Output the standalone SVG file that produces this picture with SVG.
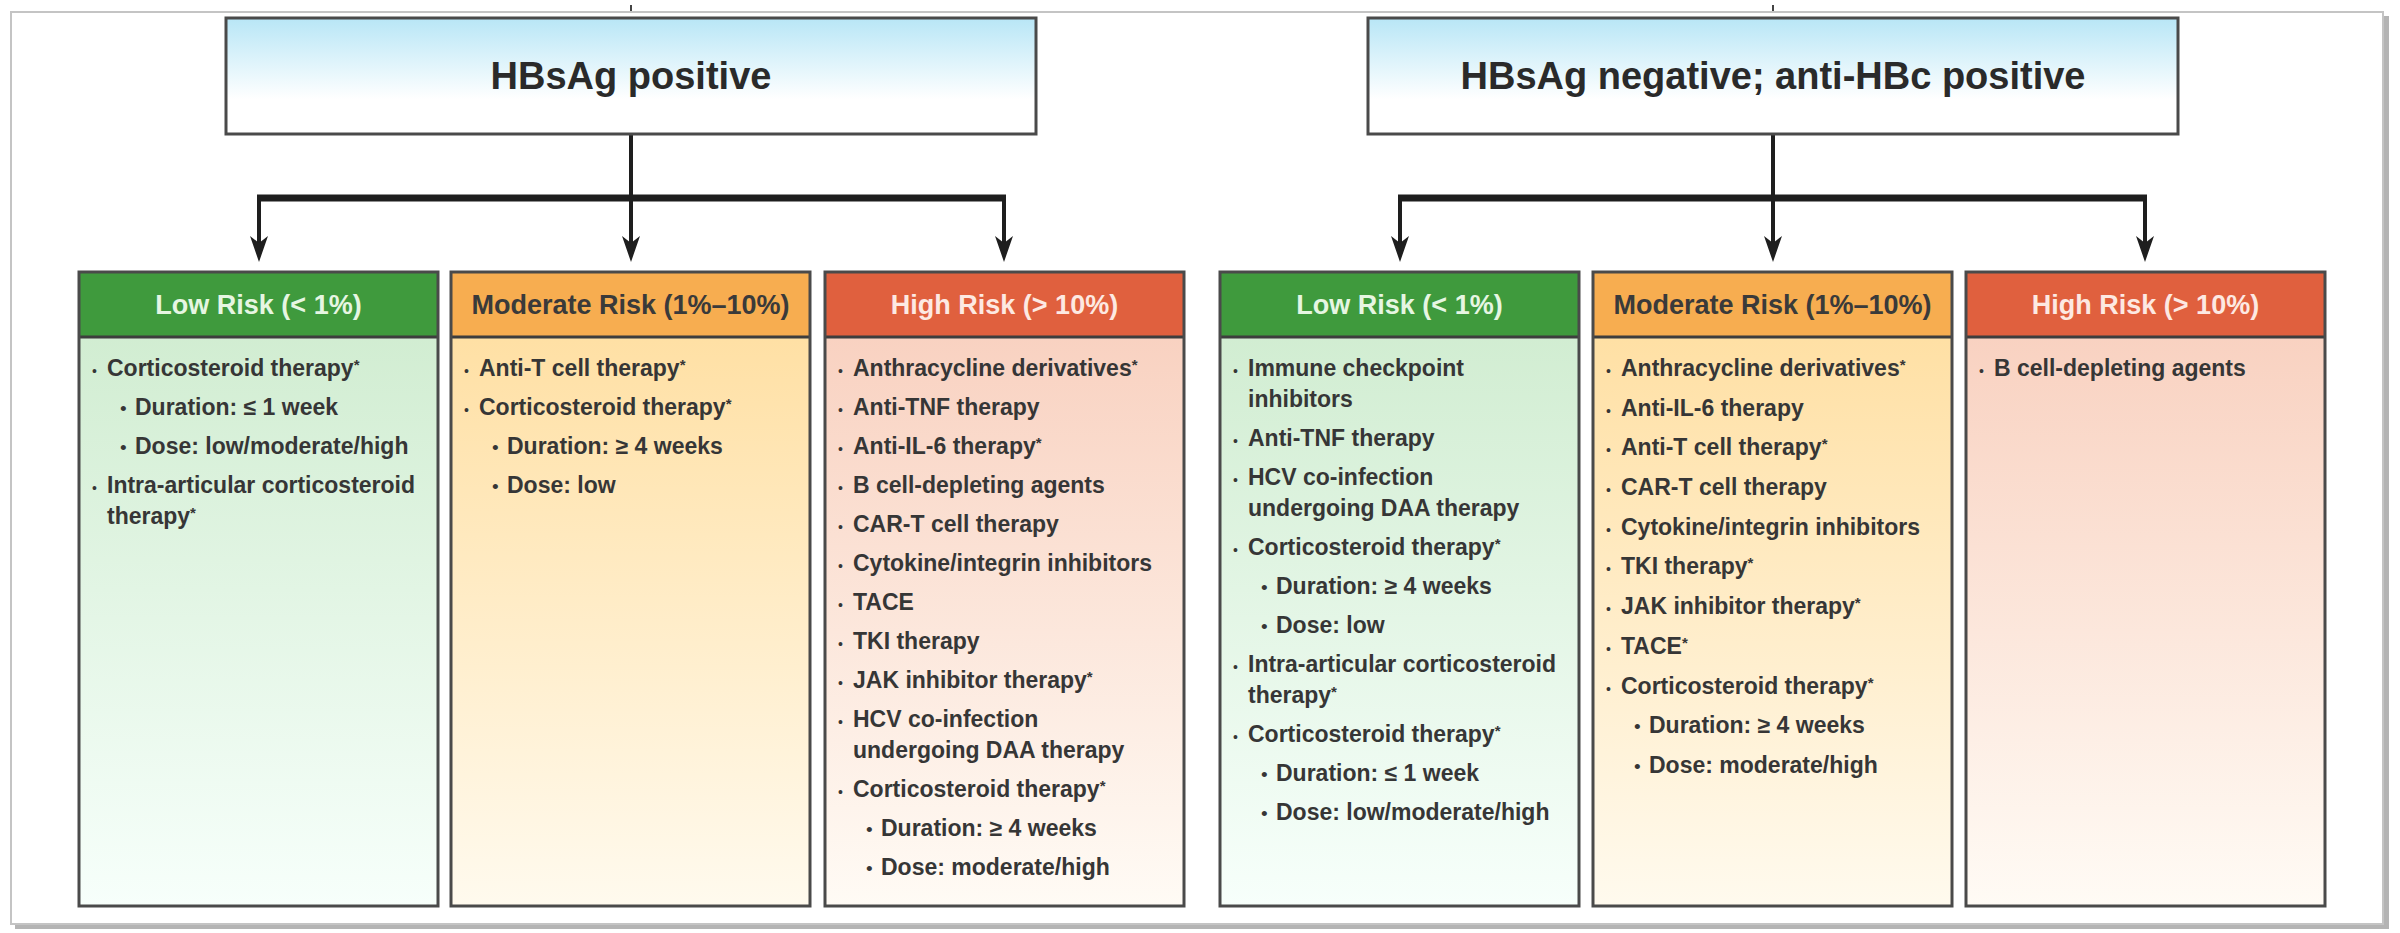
<svg xmlns="http://www.w3.org/2000/svg" width="2400" height="933" viewBox="0 0 2400 933">
<defs>
<linearGradient id="gBlue" x1="0" y1="0" x2="0" y2="1"><stop offset="0" stop-color="#b8e6f6"/><stop offset="0.7" stop-color="#ffffff"/><stop offset="1" stop-color="#ffffff"/></linearGradient>
<linearGradient id="gGreen" x1="0" y1="0" x2="0" y2="1"><stop offset="0" stop-color="#cdebcd"/><stop offset="1" stop-color="#f7fffb"/></linearGradient>
<linearGradient id="gOrange" x1="0" y1="0" x2="0" y2="1"><stop offset="0" stop-color="#ffdd9c"/><stop offset="1" stop-color="#fffaee"/></linearGradient>
<linearGradient id="gRed" x1="0" y1="0" x2="0" y2="1"><stop offset="0" stop-color="#f8cdbb"/><stop offset="1" stop-color="#fffbf5"/></linearGradient>
<marker id="ah" viewBox="0 0 26 18" refX="14" refY="9" markerWidth="26" markerHeight="18" markerUnits="userSpaceOnUse" orient="auto"><path d="M0,0 L26,9 L0,18 L7,9 Z" fill="#1e1e1e"/></marker>
</defs>
<style>
.frame{fill:#ffffff;stroke:#c4c4c4;stroke-width:2}
.top{fill:url(#gBlue);stroke:#4a4a4a;stroke-width:3}
.title{font-family:"Liberation Sans",Arial,sans-serif;font-weight:bold;font-size:38px;fill:#2a2a2a;text-anchor:middle}
.outline{fill:none;stroke:#4a4a4a;stroke-width:3}
.hline{stroke:#3d3d3d;stroke-width:3}
.hg{fill:#3f9a3d}.ho{fill:#f7ad50}.hr{fill:#e0603e}
.bg{fill:url(#gGreen)}.bo{fill:url(#gOrange)}.br{fill:url(#gRed)}
.ht{font-family:"Liberation Sans",Arial,sans-serif;font-weight:bold;font-size:27px;text-anchor:middle}
.htg{fill:#e6f6e2}.hto{fill:#3a3a3a}.htr{fill:#fde9e2}
.t{font-family:"Liberation Sans",Arial,sans-serif;font-weight:bold;font-size:23px;fill:#363636}
.b1{font-family:"Liberation Sans",Arial,sans-serif;font-size:14px;fill:#363636}
.b2{font-family:"Liberation Sans",Arial,sans-serif;font-size:19px;fill:#363636}
.sup{font-size:15px}
.conn{fill:none;stroke:#1e1e1e;stroke-width:4}
.tick{fill:none;stroke:#444;stroke-width:2}
.bar{fill:none;stroke:#1e1e1e;stroke-width:7}
</style>

<rect x="15" y="16" width="2374" height="913" fill="#b4b4b4"/>
<rect class="frame" x="11" y="12" width="2372" height="912"/>

<g id="connectors">
<path class="tick" d="M631,5 V11"/>
<path class="tick" d="M1773,5 V11"/>
<path class="bar" d="M257,198 H1006"/>
<path class="conn" d="M631,134 V250" marker-end="url(#ah)"/>
<path class="conn" d="M259,198 V250" marker-end="url(#ah)"/>
<path class="conn" d="M1004,198 V250" marker-end="url(#ah)"/>
<path class="bar" d="M1398,198 H2147"/>
<path class="conn" d="M1773,134 V250" marker-end="url(#ah)"/>
<path class="conn" d="M1400,198 V250" marker-end="url(#ah)"/>
<path class="conn" d="M2145,198 V250" marker-end="url(#ah)"/>
</g>

<g id="hbsag-positive">
<rect class="top" x="226" y="18" width="810" height="116"/>
<text class="title" x="631" y="89">HBsAg positive</text>
</g>

<g id="hbsag-negative-antihbc-positive">
<rect class="top" x="1368" y="18" width="810" height="116"/>
<text class="title" x="1773" y="89">HBsAg negative; anti-HBc positive</text>
</g>

<g id="pos-low" transform="translate(79,272)">
<rect class="bg" x="0" y="0" width="359" height="634"/>
<rect class="hg" x="0" y="0" width="359" height="65"/>
<line class="hline" x1="0" y1="65" x2="359" y2="65"/>
<rect class="outline" x="0" y="0" width="359" height="634"/>
<text class="ht htg" x="179.5" y="42">Low Risk (&lt; 1%)</text>
<text class="b1" x="13" y="104">•</text><text class="t" x="28" y="104">Corticosteroid therapy<tspan class="sup" dy="-6">*</tspan></text>
<text class="b2" x="41" y="143">•</text><text class="t" x="56" y="143">Duration: ≤ 1 week</text>
<text class="b2" x="41" y="182">•</text><text class="t" x="56" y="182">Dose: low/moderate/high</text>
<text class="b1" x="13" y="221">•</text><text class="t" x="28" y="221">Intra-articular corticosteroid</text>
<text class="t" x="28" y="252">therapy<tspan class="sup" dy="-6">*</tspan></text>
</g>

<g id="pos-moderate" transform="translate(451,272)">
<rect class="bo" x="0" y="0" width="359" height="634"/>
<rect class="ho" x="0" y="0" width="359" height="65"/>
<line class="hline" x1="0" y1="65" x2="359" y2="65"/>
<rect class="outline" x="0" y="0" width="359" height="634"/>
<text class="ht hto" x="179.5" y="42">Moderate Risk (1%–10%)</text>
<text class="b1" x="13" y="104">•</text><text class="t" x="28" y="104">Anti-T cell therapy<tspan class="sup" dy="-6">*</tspan></text>
<text class="b1" x="13" y="143">•</text><text class="t" x="28" y="143">Corticosteroid therapy<tspan class="sup" dy="-6">*</tspan></text>
<text class="b2" x="41" y="182">•</text><text class="t" x="56" y="182">Duration: ≥ 4 weeks</text>
<text class="b2" x="41" y="221">•</text><text class="t" x="56" y="221">Dose: low</text>
</g>

<g id="pos-high" transform="translate(825,272)">
<rect class="br" x="0" y="0" width="359" height="634"/>
<rect class="hr" x="0" y="0" width="359" height="65"/>
<line class="hline" x1="0" y1="65" x2="359" y2="65"/>
<rect class="outline" x="0" y="0" width="359" height="634"/>
<text class="ht htr" x="179.5" y="42">High Risk (&gt; 10%)</text>
<text class="b1" x="13" y="104">•</text><text class="t" x="28" y="104">Anthracycline derivatives<tspan class="sup" dy="-6">*</tspan></text>
<text class="b1" x="13" y="143">•</text><text class="t" x="28" y="143">Anti-TNF therapy</text>
<text class="b1" x="13" y="182">•</text><text class="t" x="28" y="182">Anti-IL-6 therapy<tspan class="sup" dy="-6">*</tspan></text>
<text class="b1" x="13" y="221">•</text><text class="t" x="28" y="221">B cell-depleting agents</text>
<text class="b1" x="13" y="260">•</text><text class="t" x="28" y="260">CAR-T cell therapy</text>
<text class="b1" x="13" y="299">•</text><text class="t" x="28" y="299">Cytokine/integrin inhibitors</text>
<text class="b1" x="13" y="338">•</text><text class="t" x="28" y="338">TACE</text>
<text class="b1" x="13" y="377">•</text><text class="t" x="28" y="377">TKI therapy</text>
<text class="b1" x="13" y="416">•</text><text class="t" x="28" y="416">JAK inhibitor therapy<tspan class="sup" dy="-6">*</tspan></text>
<text class="b1" x="13" y="455">•</text><text class="t" x="28" y="455">HCV co-infection</text>
<text class="t" x="28" y="486">undergoing DAA therapy</text>
<text class="b1" x="13" y="525">•</text><text class="t" x="28" y="525">Corticosteroid therapy<tspan class="sup" dy="-6">*</tspan></text>
<text class="b2" x="41" y="564">•</text><text class="t" x="56" y="564">Duration: ≥ 4 weeks</text>
<text class="b2" x="41" y="603">•</text><text class="t" x="56" y="603">Dose: moderate/high</text>
</g>

<g id="neg-low" transform="translate(1220,272)">
<rect class="bg" x="0" y="0" width="359" height="634"/>
<rect class="hg" x="0" y="0" width="359" height="65"/>
<line class="hline" x1="0" y1="65" x2="359" y2="65"/>
<rect class="outline" x="0" y="0" width="359" height="634"/>
<text class="ht htg" x="179.5" y="42">Low Risk (&lt; 1%)</text>
<text class="b1" x="13" y="104">•</text><text class="t" x="28" y="104">Immune checkpoint</text>
<text class="t" x="28" y="135">inhibitors</text>
<text class="b1" x="13" y="174">•</text><text class="t" x="28" y="174">Anti-TNF therapy</text>
<text class="b1" x="13" y="213">•</text><text class="t" x="28" y="213">HCV co-infection</text>
<text class="t" x="28" y="244">undergoing DAA therapy</text>
<text class="b1" x="13" y="283">•</text><text class="t" x="28" y="283">Corticosteroid therapy<tspan class="sup" dy="-6">*</tspan></text>
<text class="b2" x="41" y="322">•</text><text class="t" x="56" y="322">Duration: ≥ 4 weeks</text>
<text class="b2" x="41" y="361">•</text><text class="t" x="56" y="361">Dose: low</text>
<text class="b1" x="13" y="400">•</text><text class="t" x="28" y="400">Intra-articular corticosteroid</text>
<text class="t" x="28" y="431">therapy<tspan class="sup" dy="-6">*</tspan></text>
<text class="b1" x="13" y="470">•</text><text class="t" x="28" y="470">Corticosteroid therapy<tspan class="sup" dy="-6">*</tspan></text>
<text class="b2" x="41" y="509">•</text><text class="t" x="56" y="509">Duration: ≤ 1 week</text>
<text class="b2" x="41" y="548">•</text><text class="t" x="56" y="548">Dose: low/moderate/high</text>
</g>

<g id="neg-moderate" transform="translate(1593,272)">
<rect class="bo" x="0" y="0" width="359" height="634"/>
<rect class="ho" x="0" y="0" width="359" height="65"/>
<line class="hline" x1="0" y1="65" x2="359" y2="65"/>
<rect class="outline" x="0" y="0" width="359" height="634"/>
<text class="ht hto" x="179.5" y="42">Moderate Risk (1%–10%)</text>
<text class="b1" x="13" y="104">•</text><text class="t" x="28" y="104">Anthracycline derivatives<tspan class="sup" dy="-6">*</tspan></text>
<text class="b1" x="13" y="144">•</text><text class="t" x="28" y="144">Anti-IL-6 therapy</text>
<text class="b1" x="13" y="183">•</text><text class="t" x="28" y="183">Anti-T cell therapy<tspan class="sup" dy="-6">*</tspan></text>
<text class="b1" x="13" y="223">•</text><text class="t" x="28" y="223">CAR-T cell therapy</text>
<text class="b1" x="13" y="263">•</text><text class="t" x="28" y="263">Cytokine/integrin inhibitors</text>
<text class="b1" x="13" y="302">•</text><text class="t" x="28" y="302">TKI therapy<tspan class="sup" dy="-6">*</tspan></text>
<text class="b1" x="13" y="342">•</text><text class="t" x="28" y="342">JAK inhibitor therapy<tspan class="sup" dy="-6">*</tspan></text>
<text class="b1" x="13" y="382">•</text><text class="t" x="28" y="382">TACE<tspan class="sup" dy="-6">*</tspan></text>
<text class="b1" x="13" y="422">•</text><text class="t" x="28" y="422">Corticosteroid therapy<tspan class="sup" dy="-6">*</tspan></text>
<text class="b2" x="41" y="461">•</text><text class="t" x="56" y="461">Duration: ≥ 4 weeks</text>
<text class="b2" x="41" y="501">•</text><text class="t" x="56" y="501">Dose: moderate/high</text>
</g>

<g id="neg-high" transform="translate(1966,272)">
<rect class="br" x="0" y="0" width="359" height="634"/>
<rect class="hr" x="0" y="0" width="359" height="65"/>
<line class="hline" x1="0" y1="65" x2="359" y2="65"/>
<rect class="outline" x="0" y="0" width="359" height="634"/>
<text class="ht htr" x="179.5" y="42">High Risk (&gt; 10%)</text>
<text class="b1" x="13" y="104">•</text><text class="t" x="28" y="104">B cell-depleting agents</text>
</g>
</svg>
